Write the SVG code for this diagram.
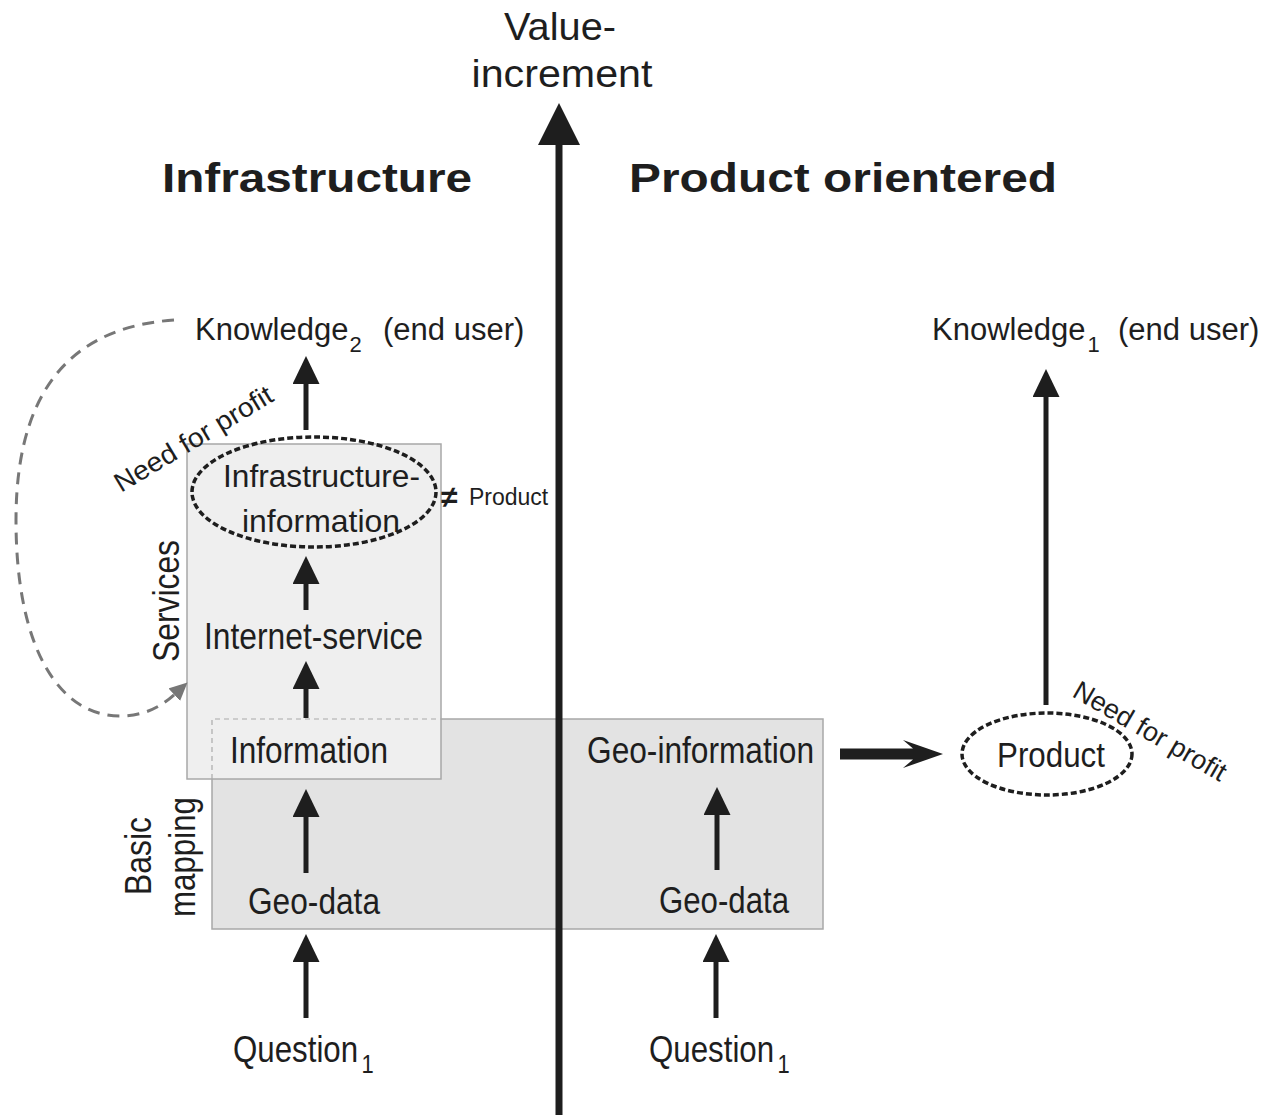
<svg xmlns="http://www.w3.org/2000/svg" width="1266" height="1115" viewBox="0 0 1266 1115">
<defs>
<style>
text{font-family:"Liberation Sans",Arial,Helvetica,sans-serif;fill:#1e1e1e}
.lbl{font-size:36px}
.kn{font-size:31px}
.sub{font-size:22px}
.hdr{font-size:41px;font-weight:bold}
.arr{stroke:#1e1e1e;stroke-width:5;fill:none;marker-end:url(#ah)}
.ell{fill:none;stroke:#1e1e1e;stroke-width:3.5;stroke-dasharray:6 3}
.box{stroke:#a8a8a8;stroke-width:1.5}
</style>
<marker id="ah" markerUnits="userSpaceOnUse" markerWidth="30" markerHeight="28" refX="1" refY="13.5" orient="auto">
<path d="M0,0 L28,13.5 L0,27 Z" fill="#1e1e1e"/>
</marker>
<marker id="gh" markerUnits="userSpaceOnUse" markerWidth="20" markerHeight="18" refX="1" refY="8.5" orient="auto">
<path d="M0,0 L18,8.5 L0,17 Z" fill="#777"/>
</marker>
</defs>
<rect width="1266" height="1115" fill="#fff"/>

<g id="basic-mapping-box">
<rect class="box" x="212" y="719" width="611" height="210" fill="#e3e3e3"/>
</g>
<g id="services-box">
<rect class="box" x="187" y="444" width="254" height="335" fill="#efefef" stroke="#b5b5b5"/>
<path d="M212,779 L212,719 L441,719" fill="none" stroke="#aaa" stroke-width="1.2" stroke-dasharray="5 4"/>
</g>

<g id="axis">
<line x1="559" y1="1115" x2="559" y2="143" stroke="#1e1e1e" stroke-width="7"/>
<polygon points="559,103 580,145 538,145" fill="#1e1e1e"/>
<text x="560" y="40" font-size="39" text-anchor="middle" textLength="112" lengthAdjust="spacingAndGlyphs">Value-</text>
<text x="562" y="87" font-size="39" text-anchor="middle" textLength="181" lengthAdjust="spacingAndGlyphs">increment</text>
</g>

<g id="headers">
<text class="hdr" x="162" y="192" textLength="310" lengthAdjust="spacingAndGlyphs">Infrastructure</text>
<text class="hdr" x="629" y="192" textLength="428" lengthAdjust="spacingAndGlyphs">Product orientered</text>
</g>

<g id="side-labels">
<text class="lbl" font-size="37" transform="translate(179,601) rotate(-90)" text-anchor="middle" textLength="122" lengthAdjust="spacingAndGlyphs">Services</text>
<text class="lbl" font-size="37" transform="translate(151,856) rotate(-90)" text-anchor="middle" textLength="78" lengthAdjust="spacingAndGlyphs">Basic</text>
<text class="lbl" font-size="37" transform="translate(195,857) rotate(-90)" text-anchor="middle" textLength="120" lengthAdjust="spacingAndGlyphs">mapping</text>
</g>

<g id="connectors">
<line class="arr" x1="306" y1="430" x2="306" y2="383"/>
<line class="arr" x1="306" y1="610" x2="306" y2="583"/>
<line class="arr" x1="306" y1="718" x2="306" y2="688"/>
<line class="arr" x1="306" y1="873" x2="306" y2="816"/>
<line class="arr" x1="306" y1="1018" x2="306" y2="961"/>
<line class="arr" x1="717" y1="870" x2="717" y2="814"/>
<line class="arr" x1="716" y1="1018" x2="716" y2="961"/>
<line class="arr" x1="1046" y1="705" x2="1046" y2="396"/>
<path d="M840,748.5 L913,748.5 L903,740 L943,754 L903,768 L913,759.5 L840,759.5 Z" fill="#1e1e1e"/>
<path d="M174,320 C90,326 16,370 16,520 C16,650 60,716 120,716 C145,716 162,706 175,694" fill="none" stroke="#777" stroke-width="3" stroke-dasharray="12 8" marker-end="url(#gh)"/>
</g>

<g id="knowledge2">
<text class="kn" x="195" y="340">Knowledge<tspan font-size="22" dx="1" dy="12">2</tspan><tspan x="383" dy="-12">(end user)</tspan></text>
</g>

<g id="knowledge1">
<text class="kn" x="932" y="340">Knowledge<tspan font-size="22" dx="2" dy="12">1</tspan><tspan x="1118" dy="-12">(end user)</tspan></text>
</g>

<g id="need-for-profit-left">
<text font-size="27" transform="translate(121,493) rotate(-31)" textLength="180" lengthAdjust="spacingAndGlyphs">Need for profit</text>
</g>

<g id="infrastructure-information">
<ellipse class="ell" cx="314" cy="492" rx="122" ry="55"/>
<text x="223" y="487" font-size="31" textLength="197" lengthAdjust="spacingAndGlyphs">Infrastructure-</text>
<text x="242" y="532" font-size="32" textLength="158" lengthAdjust="spacingAndGlyphs">information</text>
</g>

<g id="not-product">
<text x="441" y="507" font-size="30" font-weight="bold">≠<tspan x="469" y="505" font-size="23" font-weight="normal">Product</tspan></text>
</g>

<g id="internet-service">
<text class="lbl" x="204" y="649" textLength="219" lengthAdjust="spacingAndGlyphs">Internet-service</text>
</g>

<g id="information">
<text class="lbl" x="230" y="763" textLength="158" lengthAdjust="spacingAndGlyphs">Information</text>
</g>

<g id="geo-data-left">
<text class="lbl" x="248" y="914" textLength="132" lengthAdjust="spacingAndGlyphs">Geo-data</text>
</g>

<g id="geo-information">
<text class="lbl" x="587" y="763" textLength="227" lengthAdjust="spacingAndGlyphs">Geo-information</text>
</g>

<g id="geo-data-right">
<text class="lbl" x="659" y="913" textLength="130" lengthAdjust="spacingAndGlyphs">Geo-data</text>
</g>

<g id="question-left">
<text font-size="37" transform="translate(233,1062) scale(0.845,1)">Question<tspan font-size="26" dx="4" dy="11">1</tspan></text>
</g>

<g id="question-right">
<text font-size="37" transform="translate(649,1062) scale(0.845,1)">Question<tspan font-size="26" dx="4" dy="11">1</tspan></text>
</g>

<g id="product">
<ellipse class="ell" cx="1047" cy="754" rx="85" ry="41"/>
<text x="997" y="767" font-size="35" textLength="108" lengthAdjust="spacingAndGlyphs">Product</text>
</g>

<g id="need-for-profit-right">
<text font-size="27" transform="translate(1071,696) rotate(30)" textLength="172" lengthAdjust="spacingAndGlyphs">Need for profit</text>
</g>
</svg>
